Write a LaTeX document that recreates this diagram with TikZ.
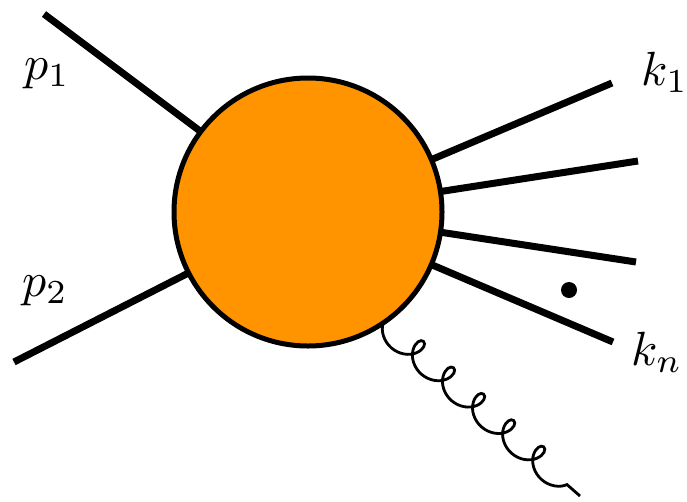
\documentclass[tikz,border=0pt]{standalone}
\usepackage{graphicx}
\usetikzlibrary{decorations.pathmorphing}
\begin{document}
\begin{tikzpicture}[x=1pt,y=-1pt,
  leg/.style={line width=7pt},
  lbl/.style={inner sep=0pt},
  gluon/.style={line width=2.8pt, decorate, decoration={coil, mirror, amplitude=13pt, segment length=40pt, aspect=0.95}}]
\useasboundingbox (0,0) rectangle (687,501);
\node[circle, minimum size=268pt, inner sep=0pt] (blob) at (308,212) {};
\coordinate (a1) at (44,14);
\coordinate (a2) at (14,362);
\coordinate (b1) at (612,83);
\coordinate (b2) at (638,161);
\coordinate (b3) at (636,262);
\coordinate (bn) at (613,342);
\coordinate (g) at (580,496);
\foreach \c in {a1,a2,b1,b2,b3,bn} \draw[leg] (\c) -- (blob.center);
\draw[gluon] (blob.-56) -- (g);
\draw[line width=5pt, fill={rgb,255:red,255;green,148;blue,0}] (blob.center) circle (134pt);
\fill (569,290) circle (8pt);
\node[lbl] (lp1) at (47,74) {\scalebox{4.8}{$p_1$}};
\node[lbl] (lp2) at (45,291) {\scalebox{4.8}{$p_2$}};
\node[lbl] (lk1) at (665,72) {\scalebox{4.8}{$k_1$}};
\node[lbl] (lkn) at (657,352) {\scalebox{4.8}{$k_n$}};
\end{tikzpicture}
\end{document}
